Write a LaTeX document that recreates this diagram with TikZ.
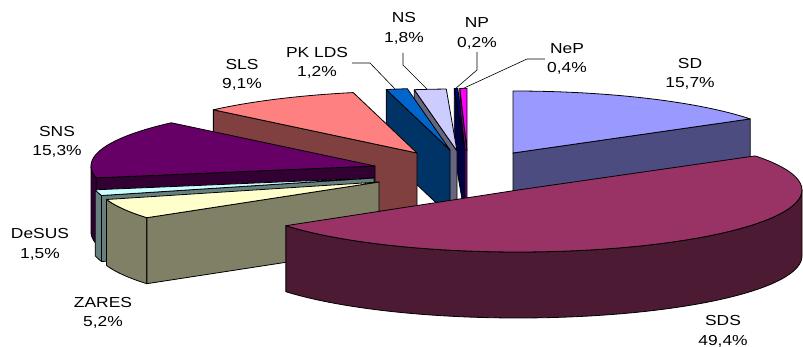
\documentclass[tikz,border=0pt]{standalone}
\usepackage{fontspec}
\setmainfont{Liberation Sans}[FakeStretch=1.2]
\definecolor{sd}{HTML}{9999FF}\definecolor{sdS}{HTML}{4C4C80}
\definecolor{sds}{HTML}{993366}\definecolor{sdsS}{HTML}{4D1A33}
\definecolor{zares}{HTML}{FFFFCC}\definecolor{zaresS}{HTML}{808066}
\definecolor{desus}{HTML}{CCFFFF}\definecolor{desusS}{HTML}{668080}
\definecolor{sns}{HTML}{660066}\definecolor{snsS}{HTML}{330033}
\definecolor{sls}{HTML}{FF8080}\definecolor{slsS}{HTML}{804040}
\definecolor{pk}{HTML}{0066CC}\definecolor{pkS}{HTML}{003366}
\definecolor{ns}{HTML}{CCCCFF}\definecolor{nsS}{HTML}{666680}
\definecolor{np}{HTML}{000080}\definecolor{npS}{HTML}{000040}
\definecolor{nep}{HTML}{FF00FF}\definecolor{nepS}{HTML}{800080}
\def\A{284}\def\B{62}\def\H{66}
\newcommand\radface[4]{%
  \filldraw[pie,fill=#4] (#1,#2) -- ({#1+\A*sin(#3)},{#2-\B*cos(#3)})
    -- ({#1+\A*sin(#3)},{#2-\B*cos(#3)+\H}) -- (#1,{#2+\H}) -- cycle;}
\newcommand\pieslice[6]{%
  \pgfmathsetmacro\ca{max(#3,90)}%
  \pgfmathsetmacro\cb{min(#4,270)}%
  \pgfmathtruncatemacro\vc{\cb>\ca}%
  \ifnum\vc=1
    \filldraw[pie,fill=#6] plot[domain=\ca:\cb,samples=60,variable=\t]
      ({#1+\A*sin(\t)},{#2-\B*cos(\t)}) -- plot[domain=\cb:\ca,samples=60,variable=\t]
      ({#1+\A*sin(\t)},{#2-\B*cos(\t)+\H}) -- cycle;
  \fi
  \pgfmathtruncatemacro\vs{sin(#3) < -0.001}%
  \ifnum\vs=1 \radface{#1}{#2}{#3}{#6}\fi
  \pgfmathtruncatemacro\ve{sin(#4) > 0.001}%
  \ifnum\ve=1 \radface{#1}{#2}{#4}{#6}\fi
  \filldraw[pie,fill=#5] (#1,#2) -- plot[domain=#3:#4,samples=60,variable=\t]
    ({#1+\A*sin(\t)},{#2-\B*cos(\t)}) -- cycle;}
\tikzset{
  pie/.style={draw=black,line width=0.8pt,line join=round},
  lbl/.style={align=center,inner sep=0pt,font=\fontsize{14.5}{19.5}\selectfont},
  lead/.style={draw=black,line width=0.6pt}
}
\begin{document}
\begin{tikzpicture}[x=1pt,y=-1pt]
\useasboundingbox (0,0) rectangle (803,347);
\begin{scope}
\clip (0,0) rectangle (803,347);
\pieslice{467}{150.5}{358.56}{360}{nep}{nepS}
\pieslice{465}{150.5}{357.84}{358.56}{np}{npS}
\pieslice{457}{151}{351.35}{357.84}{ns}{nsS}
\pieslice{450}{150}{347.02}{351.35}{pk}{pkS}
\pieslice{513}{153}{0}{56.63}{sd}{sdS}
\pieslice{417}{153}{314.19}{347.02}{sls}{slsS}
\pieslice{375}{166}{259}{314.19}{sns}{snsS}
\pieslice{374}{178}{253.59}{259}{desus}{desusS}
\pieslice{379}{182}{234.83}{253.59}{zares}{zaresS}
\pieslice{518}{190}{56.63}{234.83}{sds}{sdsS}
\end{scope}
% labels
\node[lbl] (lSD) at (690,74) {SD\\15,7\%};
\node[lbl] (lSDS) at (723,331.5) {SDS\\49,4\%};
\node[lbl] (lZARES) at (103,313) {ZARES\\5,2\%};
\node[lbl] (lDeSUS) at (40,244.5) {DeSUS\\1,5\%};
\node[lbl] (lSNS) at (57,142) {SNS\\15,3\%};
\node[lbl] (lSLS) at (242,75) {SLS\\9,1\%};
\node[lbl] (lPK) at (317,63) {PK LDS\\1,2\%};
\node[lbl] (lNS) at (404,28.5) {NS\\1,8\%};
\node[lbl] (lNP) at (477,33.5) {NP\\0,2\%};
\node[lbl] (lNeP) at (567,59) {NeP\\0,4\%};
% leader lines
\coordinate (pk0) at (352,63); \coordinate (pk1) at (370,63); \coordinate (pk2) at (395,89);
\coordinate (ns0) at (403,53); \coordinate (ns1) at (403,65); \coordinate (ns2) at (427,89);
\coordinate (np0) at (477,52); \coordinate (np1) at (477,70); \coordinate (np2) at (455,89);
\coordinate (ne0) at (545,59); \coordinate (ne1) at (527,59); \coordinate (ne2) at (462,89);
\draw[lead] (pk0) -- (pk1) -- (pk2);
\draw[lead] (ns0) -- (ns1) -- (ns2);
\draw[lead] (np0) -- (np1) -- (np2);
\draw[lead] (ne0) -- (ne1) -- (ne2);
\end{tikzpicture}
\end{document}
